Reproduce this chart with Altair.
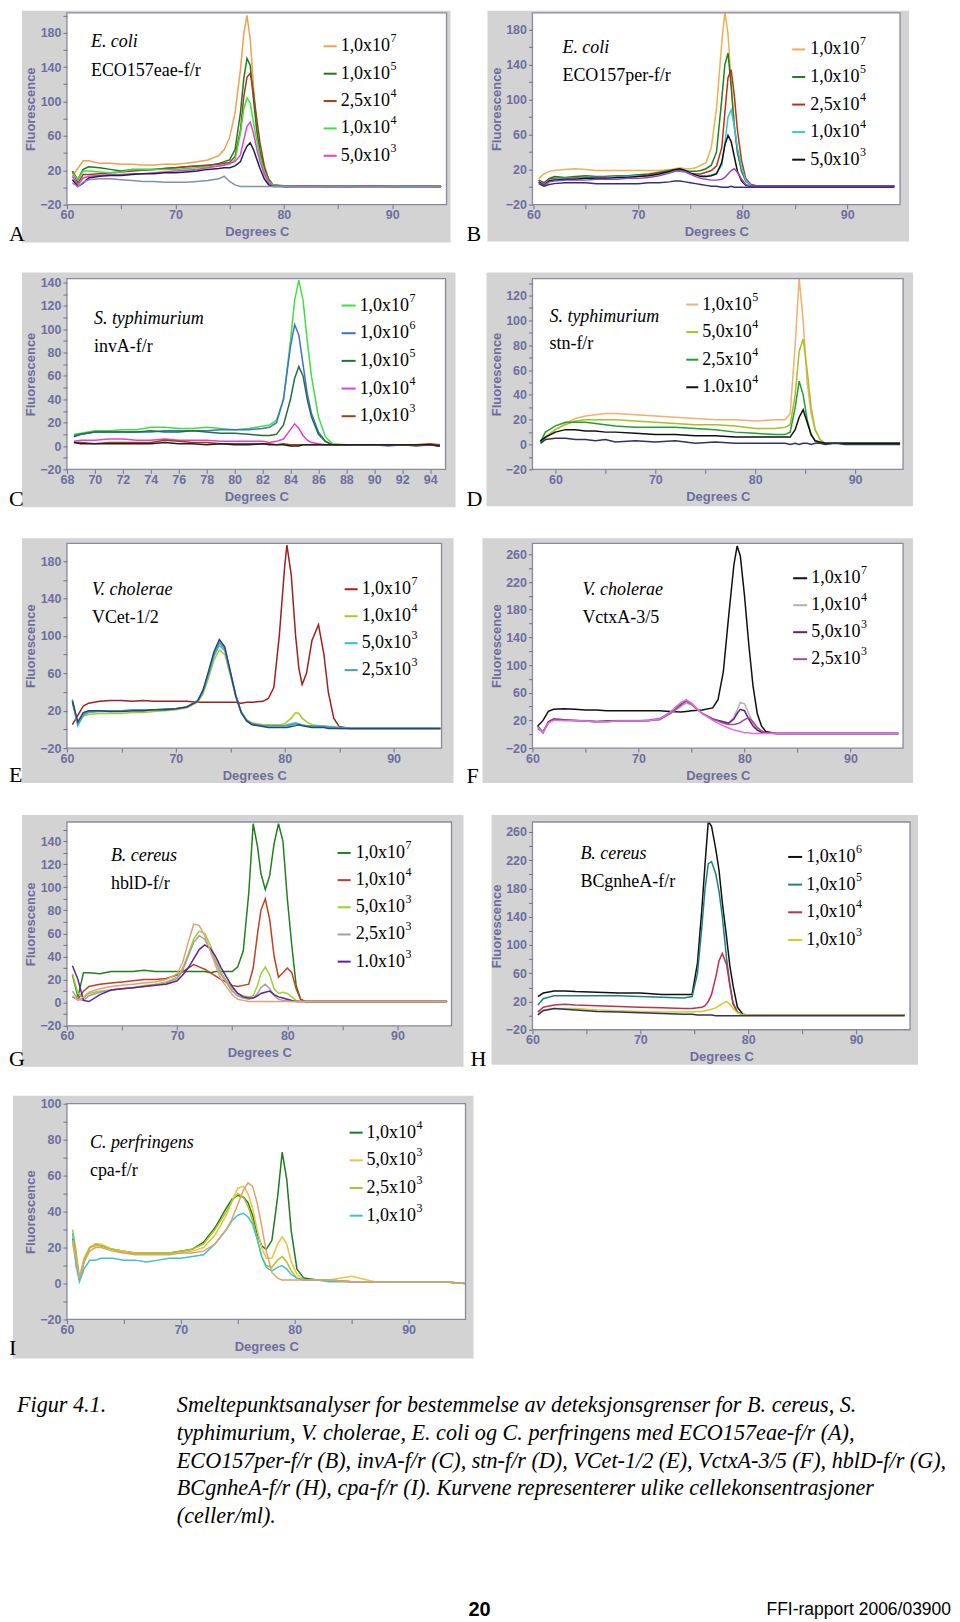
import json
import altair as alt
import pandas as pd

# ---------------- values ----------------
# Panel A  (E. coli, ECO157eae-f/r)
A_X = [60.5, 61, 61.5, 62, 63, 64, 65, 66, 67, 68, 69, 70, 71, 72, 73, 74, 74.5, 75, 75.5, 76, 76.3, 76.6, 76.9, 77.2, 77.5, 77.8, 78.2, 78.6, 79, 80, 82, 84, 86, 88, 90, 92, 94.5]
A_1E7 = [13, 22, 31, 31, 28, 28, 27, 27, 26, 26, 27, 27, 28, 30, 32, 37, 44, 58, 87, 137, 178, 200, 172, 118, 66, 38, 18, 7, 3, 2, 2, 2, 1, 2, 1, 2, 1]
A_1E5 = [19, 9, 21, 24, 23, 21, 19, 21, 21, 21, 22, 23, 24, 25, 25, 28, 30, 32, 44, 87, 126, 150, 142, 102, 67, 42, 22, 10, 3, 1, 1, 1, 1, 1, 1, 1, 1]
A_25E4 = [19, 5, 15, 15, 16, 17, 18, 19, 20, 21, 22, 23, 24, 25, 26, 27, 28, 29, 36, 67, 105, 128, 133, 110, 80, 52, 25, 9, 3, 1, 1, 1, 1, 1, 1, 1, 1]
A_1E4 = [17, 9, 19, 19, 18, 17, 18, 21, 21, 21, 21, 21, 22, 23, 24, 25, 26, 27, 32, 63, 91, 104, 98, 75, 55, 36, 18, 7, 3, 2, 2, 1, 2, 1, 2, 2, 1]
A_5E3 = [13, 3, 11, 13, 14, 15, 15, 16, 16, 17, 18, 19, 20, 21, 23, 25, 26, 28, 30, 38, 55, 71, 76, 63, 45, 30, 15, 5, 2, 1, 2, 1, 1, 2, 1, 1, 1]
A_DARK = [9, 1, 5, 11, 13, 14, 14, 15, 16, 16, 17, 17, 18, 19, 21, 22, 23, 23, 25, 30, 40, 48, 52, 44, 33, 22, 10, 3, 1, 1, 1, 1, 1, 1, 1, 1, 1]
A_CTRL = [5, 1, 6, 9, 10, 10, 9, 8, 7, 7, 6, 6, 6, 7, 8, 10, 13, 7, 3, 1, 1, 1, 1, 1, 1, 1, 1, 1, 1, 1, 1, 1, 1, 1, 1, 1, 1]

# Panel B  (E. coli, ECO157per-f/r)
B_X = [60.5, 61, 61.5, 62, 63, 64, 65, 66, 67, 68, 69, 70, 71, 72, 73, 73.5, 74, 74.5, 75, 75.5, 76, 76.5, 77, 77.5, 78, 78.3, 78.6, 78.9, 79.2, 79.5, 79.9, 80.3, 80.8, 81.5, 83, 86, 89, 92, 94.5]
B_1E7 = [10, 15, 18, 19, 20, 21, 20, 19, 19, 19, 19, 19, 19, 19, 20, 21, 22, 21, 21, 22, 25, 28, 45, 90, 165, 200, 175, 120, 70, 40, 18, 7, 2, 1, 1, 1, 1, 1, 1]
B_1E5 = [8, 5, 10, 12, 11, 12, 13, 12, 12, 13, 13, 14, 15, 17, 19, 20, 20, 19, 18, 18, 19, 21, 25, 40, 100, 140, 153, 115, 70, 40, 18, 7, 2, 1, 1, 1, 1, 1, 1]
B_25E4 = [8, 4, 9, 10, 10, 11, 11, 11, 12, 12, 12, 13, 14, 16, 18, 19, 19, 18, 16, 15, 15, 17, 19, 24, 45, 85, 125, 134, 105, 65, 30, 10, 3, 1, 1, 1, 1, 1, 1]
B_1E4 = [7, 3, 8, 9, 10, 10, 11, 11, 11, 12, 12, 13, 13, 15, 17, 18, 18, 17, 15, 14, 13, 13, 14, 16, 25, 50, 80, 88, 70, 45, 22, 8, 2, 1, 1, 1, 1, 1, 1]
B_5E3 = [6, 2, 7, 8, 9, 9, 10, 10, 10, 11, 11, 12, 13, 15, 18, 20, 21, 19, 16, 14, 12, 12, 13, 15, 28, 48, 59, 52, 35, 18, 7, 2, 1, 1, 1, 1, 1, 1, 1]
B_PURPLE = [5, 2, 6, 7, 8, 8, 8, 9, 9, 9, 10, 10, 11, 13, 16, 18, 19, 18, 15, 12, 10, 9, 8, 8, 9, 11, 15, 19, 21, 17, 9, 3, 1, 1, 1, 1, 1, 1, 1]
B_CTRL = [4, 1, 3, 4, 5, 5, 5, 4, 4, 4, 4, 4, 5, 5, 6, 7, 7, 6, 5, 4, 3, 2, 1, 1, 0, 0, 0, 1, 0, 0, 0, 0, 0, 0, 0, 0, 0, 0, 0]

# Panel C  (S. typhimurium, invA-f/r)
C_X = [68.5, 69, 70, 71, 72, 73, 74, 75, 76, 77, 78, 79, 80, 81, 82, 82.5, 83, 83.5, 84, 84.3, 84.6, 84.9, 85.2, 85.5, 86, 86.5, 87, 88, 89, 90, 91, 92, 93, 94, 94.7]
C_1E7 = [10, 11, 13, 13, 14, 14, 16, 16, 15, 15, 16, 15, 14, 15, 17, 18, 22, 40, 90, 125, 142, 125, 90, 60, 25, 8, 2, 1, 1, 1, 1, 1, 1, 1, 0]
C_1E6 = [9, 10, 12, 12, 12, 12, 12, 13, 13, 13, 13, 14, 14, 14, 15, 16, 20, 40, 85, 104, 95, 70, 45, 28, 12, 4, 1, 1, 1, 1, 0, 1, 1, 1, 0]
C_1E5 = [8, 10, 12, 12, 12, 12, 13, 12, 12, 13, 12, 11, 11, 10, 9, 9, 10, 18, 40, 58, 68, 60, 40, 25, 10, 4, 1, 1, 1, 1, 1, 1, 0, 1, 0]
C_1E4 = [4, 5, 5, 6, 6, 5, 5, 6, 5, 5, 5, 4, 4, 4, 4, 3, 4, 6, 14, 19, 15, 9, 5, 3, 2, 1, 1, 1, 1, 1, 1, 1, 1, 1, 0]
C_1E3 = [3, 3, 2, 3, 3, 3, 3, 5, 4, 3, 3, 2, 2, 2, 2, 2, 1, 2, 1, 1, 1, 1, 1, 1, 1, 1, 1, 1, 1, 1, 1, 1, 1, 2, 1]
C_DARK = [3, 2, 2, 2, 2, 2, 2, 3, 2, 2, 1, 2, 1, 1, 2, 1, 1, 1, 0, 0, 0, 1, 1, 1, 1, 1, 1, 1, 1, 1, 1, 1, 1, 1, 0]

# Panel D  (S. typhimurium, stn-f/r)
D_X = [58.5, 59, 60, 61, 62, 63, 64, 65, 66, 68, 70, 72, 74, 76, 78, 80, 82, 83, 83.5, 84, 84.4, 84.8, 85.2, 85.6, 86, 86.5, 87, 88, 89, 90, 92, 94.5]
D_1E5 = [2, 5, 12, 17, 21, 23, 24, 25, 25, 24, 23, 22, 21, 20, 20, 19, 20, 20, 25, 80, 134, 100, 50, 25, 12, 4, 1, 1, 1, 1, 1, 1]
D_5E4 = [2, 6, 12, 16, 19, 20, 20, 20, 20, 19, 18, 17, 16, 16, 15, 13, 13, 14, 16, 40, 75, 85, 60, 30, 12, 4, 1, 1, 1, 1, 1, 1]
D_25E4 = [2, 10, 15, 18, 18, 18, 17, 16, 15, 14, 14, 14, 13, 12, 10, 9, 8, 8, 10, 30, 51, 40, 20, 8, 3, 1, 1, 1, 1, 1, 1, 1]
D_1E4 = [3, 6, 10, 12, 12, 11, 11, 10, 10, 9, 8, 8, 7, 7, 6, 6, 6, 6, 6, 12, 22, 28, 18, 8, 3, 2, 1, 1, 1, 1, 1, 1]
D_CTRL = [1, 4, 5, 5, 4, 4, 3, 4, 2, 3, 2, 3, 1, 2, 1, 1, 1, 1, 0, 1, 0, 1, 1, 0, 1, 1, 0, 1, 0, 0, 0, 0]

# Panel E  (V. cholerae, VCet-1/2)
E_X = [60.5, 61, 61.5, 62, 63, 64, 65, 66, 67, 68, 69, 70, 71, 72, 72.5, 73, 73.5, 74, 74.5, 75, 75.5, 76, 76.5, 77, 78, 78.5, 79, 79.5, 80, 80.2, 80.6, 81, 81.3, 81.6, 82, 82.5, 83.1, 83.6, 84, 84.5, 85, 86, 88, 90, 92, 94.3]
E_1E7 = [5, 15, 25, 28, 30, 31, 31, 30, 31, 30, 30, 30, 30, 29, 29, 29, 29, 29, 29, 29, 29, 28, 29, 29, 30, 33, 45, 100, 175, 197, 165, 100, 65, 48, 60, 95, 112, 80, 40, 12, 3, 1, 1, 1, 1, 1]
E_1E4 = [28, 6, 14, 16, 17, 17, 17, 18, 18, 19, 20, 21, 23, 29, 38, 55, 74, 85, 80, 58, 35, 18, 10, 7, 5, 5, 5, 5, 6, 8, 12, 18, 17, 12, 8, 5, 4, 4, 3, 3, 2, 1, 1, 1, 1, 1]
E_5E3 = [30, 4, 15, 18, 19, 19, 20, 20, 20, 21, 21, 22, 24, 30, 40, 58, 78, 90, 84, 60, 36, 18, 9, 6, 4, 4, 4, 4, 4, 5, 6, 7, 6, 5, 4, 4, 4, 3, 3, 2, 2, 1, 1, 1, 1, 1]
E_25E3 = [32, 5, 16, 19, 20, 20, 20, 21, 21, 21, 22, 22, 24, 31, 42, 60, 80, 93, 86, 62, 37, 19, 10, 6, 4, 4, 4, 4, 4, 4, 5, 6, 5, 4, 4, 3, 3, 3, 2, 2, 1, 1, 1, 1, 1, 1]
E_CTRL = [30, 8, 18, 20, 20, 19, 19, 20, 20, 21, 21, 22, 24, 30, 42, 62, 83, 96, 88, 62, 36, 18, 9, 5, 3, 2, 2, 2, 2, 2, 3, 4, 5, 4, 3, 2, 2, 2, 1, 1, 1, 1, 1, 1, 1, 1]

# Panel F  (V. cholerae, VctxA-3/5)
F_X = [60.5, 61, 61.5, 62, 63, 64, 65, 66, 67, 68, 69, 70, 71, 72, 73, 74, 74.5, 75, 76, 77, 77.5, 78, 78.5, 79, 79.3, 79.6, 80, 80.4, 80.8, 81.2, 81.6, 82, 83, 85, 88, 91, 94.5]
F_1E7 = [12, 20, 33, 36, 37, 36, 35, 35, 34, 34, 34, 34, 34, 34, 33, 32, 33, 34, 35, 38, 50, 90, 170, 245, 272, 258, 200, 130, 70, 30, 12, 4, 1, 1, 1, 1, 1]
F_1E4 = [10, 4, 18, 22, 21, 20, 20, 19, 19, 20, 20, 20, 21, 23, 30, 40, 45, 42, 30, 22, 20, 18, 16, 25, 35, 46, 44, 30, 16, 8, 4, 2, 1, 1, 1, 1, 1]
F_5E3 = [12, 2, 18, 22, 21, 20, 19, 18, 19, 19, 19, 19, 20, 22, 32, 43, 48, 44, 30, 22, 20, 18, 16, 22, 30, 36, 34, 22, 12, 6, 3, 2, 1, 1, 1, 1, 1]
F_25E3 = [8, 3, 17, 21, 20, 20, 19, 18, 18, 19, 19, 19, 20, 21, 30, 42, 48, 44, 30, 22, 19, 16, 14, 14, 15, 17, 21, 24, 18, 10, 5, 2, 1, 1, 1, 1, 1]
F_CTRL = [10, 2, 16, 20, 20, 20, 19, 18, 18, 19, 19, 19, 20, 22, 32, 46, 50, 45, 30, 20, 16, 12, 9, 6, 5, 4, 2, 2, 1, 1, 1, 1, 1, 1, 1, 1, 1]

# Panel G  (B. cereus, hblD-f/r)
G_X = [60.5, 61, 61.5, 62, 63, 64, 65, 66, 67, 68, 69, 70, 70.5, 71, 71.5, 72, 72.5, 73, 73.5, 74, 75, 75.5, 76, 76.5, 76.9, 77.3, 77.6, 78, 78.4, 78.8, 79.2, 79.6, 80, 80.4, 80.8, 81.2, 81.6, 82, 84, 86, 88, 90, 92, 94.5]
G_1E7 = [24, 5, 26, 26, 25, 27, 27, 27, 28, 27, 27, 27, 27, 27, 27, 27, 27, 26, 27, 27, 27, 31, 45, 95, 155, 135, 112, 98, 110, 138, 155, 140, 90, 50, 15, 3, 1, 1, 1, 1, 1, 1, 1, 1]
G_1E4 = [5, 3, 10, 14, 16, 17, 18, 19, 20, 20, 21, 24, 27, 30, 33, 31, 29, 26, 23, 20, 15, 14, 15, 16, 30, 60, 80, 90, 72, 40, 22, 26, 30, 26, 12, 3, 1, 1, 1, 1, 1, 1, 1, 1]
G_5E3 = [25, 8, 4, 8, 10, 11, 12, 13, 15, 16, 18, 22, 30, 42, 55, 62, 60, 50, 38, 26, 12, 8, 6, 5, 6, 15, 25, 31, 24, 12, 8, 9, 8, 5, 2, 1, 1, 1, 1, 1, 1, 1, 1, 1]
G_25E3 = [10, 3, 2, 6, 9, 11, 12, 13, 14, 15, 17, 21, 28, 40, 52, 58, 55, 46, 35, 24, 10, 6, 4, 3, 4, 8, 13, 16, 12, 6, 3, 2, 2, 1, 1, 1, 1, 1, 1, 1, 1, 1, 1, 1]
G_1E3 = [32, 20, 2, 1, 7, 11, 12, 13, 14, 15, 16, 19, 24, 30, 38, 46, 50, 47, 40, 30, 14, 8, 5, 4, 4, 6, 8, 9, 10, 7, 5, 4, 3, 2, 1, 1, 1, 1, 1, 1, 1, 1, 1, 1]
G_SALMON = [6, 2, 5, 9, 12, 14, 15, 16, 17, 18, 20, 25, 35, 52, 68, 67, 58, 45, 32, 20, 7, 3, 2, 1, 1, 1, 1, 1, 1, 1, 1, 1, 1, 1, 1, 1, 1, 1, 1, 1, 1, 1, 1, 1]

# Panel H  (B. cereus, BCgnheA-f/r)
H_X = [60.5, 61, 62, 63, 64, 66, 68, 70, 72, 74, 74.8, 75.3, 75.7, 76, 76.3, 76.6, 77, 77.3, 77.6, 78, 78.3, 78.6, 79, 79.5, 80, 82, 85, 88, 91, 94.5]
H_1E6 = [27, 32, 35, 35, 34, 33, 32, 32, 30, 30, 30, 75, 150, 215, 275, 268, 235, 205, 160, 110, 70, 42, 12, 2, 1, 1, 1, 1, 1, 1]
H_1E5 = [15, 24, 28, 28, 28, 28, 28, 27, 26, 25, 27, 60, 125, 180, 215, 218, 200, 175, 140, 80, 45, 18, 5, 1, 1, 1, 1, 1, 1, 1]
H_1E4 = [5, 12, 15, 16, 15, 14, 13, 12, 11, 10, 10, 11, 12, 14, 20, 30, 55, 78, 88, 72, 42, 16, 5, 1, 1, 1, 1, 1, 1, 1]
H_1E3 = [2, 8, 10, 10, 10, 8, 7, 6, 5, 5, 5, 6, 6, 7, 8, 9, 11, 14, 17, 20, 16, 10, 4, 1, 1, 1, 1, 1, 1, 1]
H_CTRL = [1, 7, 10, 9, 8, 6, 5, 4, 3, 2, 2, 1, 1, 1, 1, 1, 0, 0, 0, 0, 0, 0, 0, 0, 0, 0, 0, 0, 0, 0]

# Panel I  (C. perfringens, cpa-f/r)
I_X = [60.5, 60.8, 61.1, 61.5, 62, 62.5, 63, 64, 65, 66, 67, 68, 69, 70, 71, 72, 73, 74, 74.5, 75, 75.5, 75.9, 76.3, 76.7, 77.1, 77.5, 78, 78.5, 78.9, 79.3, 79.7, 80.2, 80.8, 82, 83, 85, 87, 89, 91, 93, 95]
I_1E4 = [25, 15, 2, 12, 20, 22, 21, 19, 18, 17, 17, 17, 17, 18, 19, 23, 31, 42, 47, 49, 48, 45, 38, 28, 21, 19, 24, 48, 73, 58, 29, 8, 3, 2, 2, 1, 1, 1, 1, 1, 0]
I_5E3 = [22, 12, 3, 14, 20, 22, 22, 19, 18, 17, 17, 17, 17, 17, 18, 20, 27, 38, 46, 53, 54, 50, 42, 30, 20, 14, 14, 22, 26, 22, 12, 5, 2, 2, 2, 4, 1, 1, 1, 1, 0]
I_25E3 = [30, 18, 3, 13, 20, 21, 21, 19, 17, 17, 17, 17, 17, 18, 19, 22, 30, 40, 46, 50, 48, 43, 35, 25, 15, 10, 9, 13, 15, 12, 7, 3, 2, 2, 2, 1, 1, 1, 1, 1, 0]
I_1E3 = [28, 10, 1, 8, 13, 13, 14, 14, 13, 13, 12, 13, 14, 14, 15, 16, 22, 30, 35, 38, 39, 37, 33, 25, 15, 9, 7, 9, 10, 8, 5, 3, 2, 2, 1, 1, 1, 1, 1, 1, 0]
I_SALMON = [24, 14, 3, 12, 18, 20, 20, 18, 17, 16, 16, 16, 16, 17, 17, 18, 22, 30, 36, 44, 52, 56, 54, 45, 32, 18, 6, 3, 2, 2, 2, 2, 2, 2, 2, 1, 1, 1, 1, 1, 0]

# legend texts
LEG_A_BASE = ["1,0x10", "1,0x10", "2,5x10", "1,0x10", "5,0x10"]
LEG_A_EXP = ["7", "5", "4", "4", "3"]
LEG_B_BASE = ["1,0x10", "1,0x10", "2,5x10", "1,0x10", "5,0x10"]
LEG_B_EXP = ["7", "5", "4", "4", "3"]
LEG_C_BASE = ["1,0x10", "1,0x10", "1,0x10", "1,0x10", "1,0x10"]
LEG_C_EXP = ["7", "6", "5", "4", "3"]
LEG_D_BASE = ["1,0x10", "5,0x10", "2,5x10", "1.0x10"]
LEG_D_EXP = ["5", "4", "4", "4"]
LEG_E_BASE = ["1,0x10", "1,0x10", "5,0x10", "2,5x10"]
LEG_E_EXP = ["7", "4", "3", "3"]
LEG_F_BASE = ["1,0x10", "1,0x10", "5,0x10", "2,5x10"]
LEG_F_EXP = ["7", "4", "3", "3"]
LEG_G_BASE = ["1,0x10", "1,0x10", "5,0x10", "2,5x10", "1.0x10"]
LEG_G_EXP = ["7", "4", "3", "3", "3"]
LEG_H_BASE = ["1,0x10", "1,0x10", "1,0x10", "1,0x10"]
LEG_H_EXP = ["6", "5", "4", "3"]
LEG_I_BASE = ["1,0x10", "5,0x10", "2,5x10", "1,0x10"]
LEG_I_EXP = ["4", "3", "3", "3"]

CAPTION_LABEL = "Figur 4.1."
CAPTION_LINES = [
    "Smeltepunktsanalyser for bestemmelse av deteksjonsgrenser for B. cereus, S.",
    "typhimurium, V. cholerae, E. coli og C. perfringens med ECO157eae-f/r (A),",
    "ECO157per-f/r (B), invA-f/r (C), stn-f/r (D), VCet-1/2 (E), VctxA-3/5 (F), hblD-f/r (G),",
    "BCgnheA-f/r (H), cpa-f/r (I). Kurvene representerer ulike cellekonsentrasjoner",
    "(celler/ml).",
]
PAGE_NO = "20"
REPORT = "FFI-rapport 2006/03900"

# ---------------- styling ----------------
SERIF = "Liberation Serif"
SANS = "Liberation Sans"
AXC = "#6e6e9e"
FRAME = "#d3d3d3"
BORDER = "#8a8a9c"
LEG_FS = 18


def one():
    return pd.DataFrame({"k": [0]})


def txt(s, x, y, size, style="normal", weight="normal", font=SERIF, align="left", baseline="middle"):
    return alt.Chart(one()).mark_text(
        text=s, font=font, fontSize=size, fontStyle=style, fontWeight=weight,
        align=align, baseline=baseline, color="black",
    ).encode(x=alt.value(x), y=alt.value(y))


def expr(labels):
    return "indexof(%s, datum.value) >= 0 ? datum.label : ''" % json.dumps(labels)


AXIS_STYLE = dict(
    labelFont=SANS, labelFontWeight="bold", labelFontSize=12.5, labelColor=AXC,
    titleFont=SANS, titleFontWeight="bold", titleFontSize=13, titleColor=AXC,
    tickColor=AXC, grid=False, zindex=1, labelFlush=False, labelOverlap=False,
    domain=False,
)


def make_panel(p):
    W, H = p["w"], p["h"]
    names = [b + "^" + e for b, e in zip(p["leg_base"], p["leg_exp"])] + p["extra_names"]
    rows = []
    for name, ys in zip(names, p["curves"]):
        assert len(ys) == len(p["x"]), (p["letter"], name, len(ys), len(p["x"]))
        for t, f in zip(p["x"], ys):
            rows.append({"T": t, "F": f, "series": name})
    df = pd.DataFrame(rows)
    color = alt.Color("series:N", scale=alt.Scale(domain=names, range=p["colors"]), legend=None)

    xaxis = alt.Axis(title="Degrees C", values=p["xticks"], labelExpr=expr(p["xlab"]),
                     tickSize=4, labelPadding=0, minExtent=16, maxExtent=16, titlePadding=5,
                     **AXIS_STYLE)
    yaxis = alt.Axis(title="Fluorescence", values=p["yticks"], labelExpr=expr(p["ylab"]),
                     tickSize=4, labelPadding=2, minExtent=25, maxExtent=25, titlePadding=4,
                     **AXIS_STYLE)

    fx0, fx1, fy0, fy1 = p["frame"]
    frame = alt.Chart(one()).mark_rect(color=FRAME).encode(
        x=alt.value(fx0), x2=alt.value(fx1), y=alt.value(fy0), y2=alt.value(fy1))
    white = alt.Chart(one()).mark_rect(color="white").encode(
        x=alt.value(0), x2=alt.value(W), y=alt.value(0), y2=alt.value(H))
    lines = alt.Chart(df).mark_line(strokeWidth=1.5, clip=True).encode(
        x=alt.X("T:Q", scale=alt.Scale(domain=p["xdom"], nice=False, zero=False), axis=xaxis),
        y=alt.Y("F:Q", scale=alt.Scale(domain=p["ydom"], nice=False, zero=False), axis=yaxis),
        color=color, detail="series:N")
    border = alt.Chart(one()).mark_rect(fillOpacity=0, stroke=BORDER, strokeWidth=1.3).encode(
        x=alt.value(0), x2=alt.value(W), y=alt.value(0), y2=alt.value(H))

    lx = p["letter_pos"]
    letter = txt(p["letter"], lx[0], lx[1], 22)
    sx, sy1, sy2 = p["sp_pos"]
    sp1 = txt(p["species"], sx, sy1, 18, style="italic")
    sp2 = txt(p["primer"], sx, sy2, 18)

    n = len(p["leg_base"])
    ldf = pd.DataFrame({"i": list(range(n)), "series": names[:n],
                        "base": p["leg_base"], "exp": p["leg_exp"]})
    lx0, lx1, tx, ly0, ldy = p["leg"]
    yenc = alt.Y("i:Q", scale=alt.Scale(domain=[0, n - 1], range=[ly0, ly0 + (n - 1) * ldy],
                                        nice=False, zero=False), axis=None)
    leg_rule = alt.Chart(ldf).mark_rule(strokeWidth=2).encode(
        x=alt.value(lx0), x2=alt.value(lx1), y=yenc, color=color)
    leg_txt = alt.Chart(ldf).mark_text(align="left", baseline="middle", font=SERIF,
                                       fontSize=LEG_FS, color="black").encode(
        x=alt.value(tx), y=yenc, text="base:N")
    leg_exp = alt.Chart(ldf).mark_text(align="left", baseline="middle", font=SERIF,
                                       fontSize=12, dy=-8, color="black").encode(
        x=alt.value(tx + 2.75 * LEG_FS + 0.5), y=yenc, text="exp:N")

    layers = [frame, white, lines, border, letter, sp1, sp2, leg_rule, leg_txt, leg_exp]
    layers += p.get("extra_layers", [])
    return alt.layer(*layers).resolve_scale(y="independent").properties(width=W, height=H)


def rng(a, b, s):
    return list(range(a, b + 1, s))


X5 = rng(60, 90, 5)
X10 = rng(60, 90, 10)

PANELS = [
    dict(letter="A", w=380, h=192, x=A_X,
         curves=[A_1E7, A_1E5, A_25E4, A_1E4, A_5E3, A_DARK, A_CTRL],
         extra_names=["dark", "ctrl"],
         colors=["#f0a050", "#1e7a1e", "#a0401a", "#3ee03e", "#e040e0", "#202050", "#8090b0"],
         leg_base=LEG_A_BASE, leg_exp=LEG_A_EXP,
         xdom=[60, 95], ydom=[-20, 203], xticks=X5, xlab=X10,
         yticks=rng(-20, 200, 20), ylab=rng(-20, 180, 40),
         frame=(-45, 384, -2, 230), letter_pos=(-58, 221),
         species="E. coli", primer="ECO157eae-f/r", sp_pos=(24, 29, 58),
         leg=(257, 270, 274, 33.5, 27.4)),
    dict(letter="B", w=368, h=192, x=B_X,
         curves=[B_1E7, B_1E5, B_25E4, B_1E4, B_5E3, B_PURPLE, B_CTRL],
         extra_names=["purple", "ctrl"],
         colors=["#f0b050", "#208020", "#c03010", "#30c8d8", "#101010", "#a040c0", "#303080"],
         leg_base=LEG_B_BASE, leg_exp=LEG_B_EXP,
         xdom=[59.9, 95.05], ydom=[-20, 199], xticks=X5, xlab=X10,
         yticks=rng(-20, 180, 20), ylab=rng(-20, 180, 40),
         frame=(-45, 377, -2, 229), letter_pos=(-66, 221),
         species="E. coli", primer="ECO157per-f/r", sp_pos=(30, 35.5, 63.5),
         leg=(260, 273, 278, 36.6, 27.6)),
    dict(letter="C", w=379, h=191, x=C_X,
         curves=[C_1E7, C_1E6, C_1E5, C_1E4, C_1E3, C_DARK],
         extra_names=["dark"],
         colors=["#40e040", "#4070d0", "#207040", "#e040d0", "#a04010", "#202020"],
         leg_base=LEG_C_BASE, leg_exp=LEG_C_EXP,
         xdom=[68, 95.1], ydom=[-20, 143.4], xticks=rng(68, 94, 2), xlab=rng(68, 94, 2),
         yticks=rng(-20, 140, 10), ylab=rng(-20, 140, 20),
         frame=(-45, 389, -6, 229), letter_pos=(-58, 221),
         species="S. typhimurium", primer="invA-f/r", sp_pos=(27, 40.5, 68.5),
         leg=(275, 289, 293, 27, 27.7)),
    dict(letter="D", w=371, h=191, x=D_X,
         curves=[D_1E5, D_5E4, D_25E4, D_1E4, D_CTRL],
         extra_names=["ctrl"],
         colors=["#f0b070", "#a8c020", "#20a030", "#101010", "#303070"],
         leg_base=LEG_D_BASE, leg_exp=LEG_D_EXP,
         xdom=[57.7, 94.8], ydom=[-20, 133.7], xticks=X5, xlab=X10,
         yticks=rng(-20, 130, 10), ylab=rng(-20, 120, 20),
         frame=(-46, 381, -6, 228), letter_pos=(-66, 221),
         species="S. typhimurium", primer="stn-f/r", sp_pos=(17, 38.5, 66),
         leg=(154, 166, 170, 26, 27.6)),
    dict(letter="E", w=375, h=205, x=E_X,
         curves=[E_1E7, E_1E4, E_5E3, E_25E3, E_CTRL],
         extra_names=["ctrl"],
         colors=["#a02020", "#b0c820", "#30c0d0", "#40a8a8", "#304080"],
         leg_base=LEG_E_BASE, leg_exp=LEG_E_EXP,
         xdom=[60, 94.4], ydom=[-20, 199], xticks=X5, xlab=X10,
         yticks=rng(-20, 180, 20), ylab=rng(-20, 180, 40),
         frame=(-45, 387, -5, 240), letter_pos=(-58, 232),
         species="V. cholerae", primer="VCet-1/2", sp_pos=(25, 46.6, 74.5),
         leg=(278, 291, 295, 46, 27)),
    dict(letter="F", w=371, h=205, x=F_X,
         curves=[F_1E7, F_1E4, F_5E3, F_25E3, F_CTRL],
         extra_names=["ctrl"],
         colors=["#101010", "#b0b0b0", "#602080", "#a05090", "#e070e0"],
         leg_base=LEG_F_BASE, leg_exp=LEG_F_EXP,
         xdom=[60, 94.95], ydom=[-20, 276], xticks=X5, xlab=X10,
         yticks=rng(-20, 260, 20), ylab=rng(-20, 260, 40),
         frame=(-50, 381, -5, 240), letter_pos=(-66, 233),
         species="V. cholerae", primer="VctxA-3/5", sp_pos=(50, 46.6, 74.5),
         leg=(261, 275, 279, 35, 27)),
    dict(letter="G", w=385, h=204, x=G_X,
         curves=[G_1E7, G_1E4, G_5E3, G_25E3, G_1E3, G_SALMON],
         extra_names=["salmon"],
         colors=["#208020", "#c04020", "#a0d030", "#a0a0a0", "#6020a0", "#e0a080"],
         leg_base=LEG_G_BASE, leg_exp=LEG_G_EXP,
         xdom=[60, 94.9], ydom=[-20, 156.5], xticks=X5, xlab=X10,
         yticks=rng(-20, 150, 10), ylab=rng(-20, 140, 20),
         frame=(-45, 397, -7, 245), letter_pos=(-58, 237),
         species="B. cereus", primer="hblD-f/r", sp_pos=(44, 34.5, 62.4),
         leg=(271, 284, 289, 31, 27.2)),
    dict(letter="H", w=378, h=208, x=H_X,
         curves=[H_1E6, H_1E5, H_1E4, H_1E3, H_CTRL],
         extra_names=["ctrl"],
         colors=["#101010", "#208080", "#c03050", "#d0d020", "#303070"],
         leg_base=LEG_H_BASE, leg_exp=LEG_H_EXP,
         xdom=[60, 95], ydom=[-20, 274], xticks=X5, xlab=X10,
         yticks=rng(-20, 260, 20), ylab=rng(-20, 260, 40),
         frame=(-41, 386, -7, 243), letter_pos=(-62, 237),
         species="B. cereus", primer="BCgnheA-f/r", sp_pos=(48, 32.4, 60.4),
         leg=(256, 270, 274, 35, 27.7)),
]

# caption + footer live in the last panel
cap_df = pd.DataFrame({"i": list(range(len(CAPTION_LINES))), "line": CAPTION_LINES})
cap_y = alt.Y("i:Q", scale=alt.Scale(domain=[0, len(CAPTION_LINES) - 1],
                                     range=[309, 309 + (len(CAPTION_LINES) - 1) * 27.7],
                                     nice=False, zero=False), axis=None)
caption = alt.Chart(cap_df).mark_text(align="left", baseline="alphabetic", font=SERIF,
                                      fontSize=22.2, fontStyle="italic", color="black").encode(
    x=alt.value(110), y=cap_y, text="line:N")
cap_label = txt(CAPTION_LABEL, -50, 309, 22.2, style="italic", baseline="alphabetic")
page_no = txt(PAGE_NO, 413, 507, 20, weight="bold", font=SANS, align="center")
report = txt(REPORT, 885, 507, 17.5, font=SANS, align="right")

PANELS.append(
    dict(letter="I", w=399, h=216, x=I_X,
         curves=[I_1E4, I_5E3, I_25E3, I_1E3, I_SALMON],
         extra_names=["salmon"],
         colors=["#1e7a1e", "#f0c040", "#a8c820", "#40c0d0", "#e0a070"],
         leg_base=LEG_I_BASE, leg_exp=LEG_I_EXP,
         xdom=[60, 95], ydom=[-20, 100], xticks=X5, xlab=X10,
         yticks=rng(-20, 100, 10), ylab=rng(-20, 100, 20),
         frame=(-54, 407, -8, 255), letter_pos=(-58, 245),
         species="C. perfringens", primer="cpa-f/r", sp_pos=(23, 39, 67),
         leg=(283, 296, 300, 29, 27.7),
         extra_layers=[caption, cap_label, page_no, report])
)

charts = [make_panel(p) for p in PANELS]

chart = alt.concat(
    *charts, columns=2,
    spacing={"row": 74, "column": 67},
    bounds="flush",
    align={"row": "each", "column": "each"},
).resolve_scale(color="independent").properties(padding=0).configure_view(
    stroke="transparent"
).configure_axis(**AXIS_STYLE)

chart.save("out.html", embed_options={"renderer": "svg", "actions": False})
